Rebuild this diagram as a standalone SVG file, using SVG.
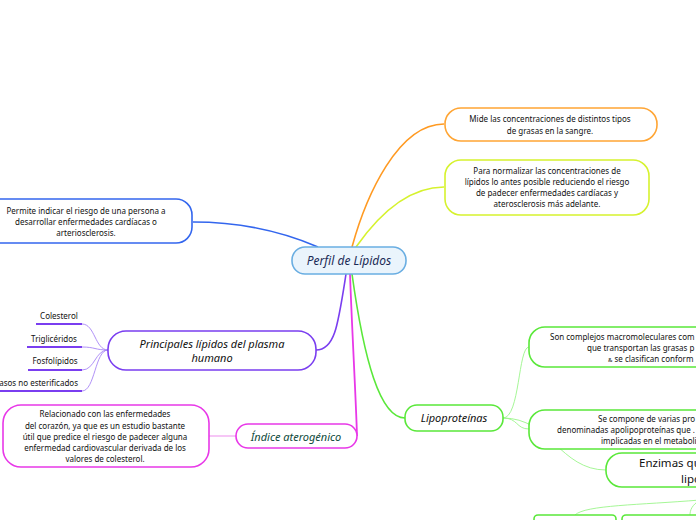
<svg xmlns="http://www.w3.org/2000/svg" width="696" height="520" viewBox="0 0 696 520">
<style>
  .t{font-family:"Noto Sans","Open Sans",sans-serif;font-size:8px;fill:#111;text-anchor:middle}
  .ts{font-family:"Noto Sans","Open Sans",sans-serif;font-size:8px;fill:#111;text-anchor:start}
  .ti{font-family:"Noto Sans","Open Sans",sans-serif;font-style:italic;font-size:11px;fill:#111;text-anchor:middle}
  .box{fill:#fff;stroke-width:1.6}
  .c{fill:none}
</style>
<rect width="696" height="520" fill="#fff"/>
<g id="connectors">
  <path class="c" d="M352,247 C366,196 398,124 444,124" stroke="#ff9a22" stroke-width="1.6"/>
  <path class="c" d="M356,247 C382,210 412,187 444,187" stroke="#d6f22e" stroke-width="1.6"/>
  <path class="c" d="M193,222 C250,222 290,235 318,247" stroke="#3366ee" stroke-width="1.6"/>
  <path class="c" d="M346,274 C338,325 335,350 316,350" stroke="#7a3ef0" stroke-width="1.6"/>
  <path class="c" d="M350,274 C352,330 356,400 357,436" stroke="#e838e8" stroke-width="1.8"/>
  <path class="c" d="M352,274 C364,360 380,418 405,418" stroke="#5ae83a" stroke-width="1.6"/>
  <path class="c" d="M108,350 C95,350 95,324 82,324" stroke="#a785f5" stroke-width="0.9"/>
  <path class="c" d="M108,350 C95,350 95,347 82,347" stroke="#a785f5" stroke-width="0.9"/>
  <path class="c" d="M108,350 C95,350 95,370 82,370" stroke="#a785f5" stroke-width="0.9"/>
  <path class="c" d="M108,350 C95,350 95,391 82,391" stroke="#a785f5" stroke-width="0.9"/>
  <path class="c" d="M209,436 L236,436" stroke="#f0a0f0" stroke-width="1.2"/>
  <path class="c" d="M503,418 C520,418 518,347 529,347" stroke="#9bf58a" stroke-width="0.9"/>
  <path class="c" d="M503,418 C518,418 516,429 529,429" stroke="#9bf58a" stroke-width="0.9"/>
  <path class="c" d="M503,418 C550,418 560,470 606,470" stroke="#9bf58a" stroke-width="0.9"/>
  <path class="c" d="M700,500 C640,505 585,505 575,515" stroke="#9bf58a" stroke-width="0.9"/>
  <path class="c" d="M700,500 C692,505 690,510 690,515" stroke="#9bf58a" stroke-width="0.9"/>
</g>
<g id="central">
  <rect x="292" y="247" width="114" height="27" rx="13" fill="#eaf4fc" stroke="#6aaee2" stroke-width="1.6"/>
  <text x="349" y="265" class="ti" style="font-size:12px;fill:#1a2a55">Perfil de Lípidos</text>
</g>
<g id="mide">
  <rect x="445" y="108" width="212" height="33" rx="16" class="box" stroke="#ffa534"/>
  <text class="t" x="550" y="122">Mide las concentraciones de distintos tipos</text>
  <text class="t" x="550" y="134">de grasas en la sangre.</text>
</g>
<g id="normalizar">
  <rect x="445" y="160" width="204" height="55" rx="16" class="box" stroke="#d6f22e"/>
  <text class="t" x="547" y="174">Para normalizar las concentraciones de</text>
  <text class="t" x="547" y="185">lípidos lo antes posible reduciendo el riesgo</text>
  <text class="t" x="547" y="196">de padecer enfermedades cardíacas y</text>
  <text class="t" x="547" y="207">aterosclerosis más adelante.</text>
</g>
<g id="permite">
  <rect x="-20" y="199" width="212" height="44" rx="16" class="box" stroke="#3366ee"/>
  <text class="t" x="86" y="214">Permite indicar el riesgo de una persona a</text>
  <text class="t" x="86" y="225">desarrollar enfermedades cardíacas o</text>
  <text class="t" x="86" y="236">arteriosclerosis.</text>
</g>
<g id="principales">
  <rect x="108" y="331" width="208" height="39" rx="18" class="box" stroke="#7a3ef0"/>
  <text class="ti" x="212" y="348">Principales lípidos del plasma</text>
  <text class="ti" x="212" y="362">humano</text>
</g>
<g id="colesterol">
  <text class="t" x="59" y="319">Colesterol</text>
  <line x1="36" y1="324" x2="82" y2="324" stroke="#7a3ef0" stroke-width="2"/>
</g>
<g id="trigliceridos">
  <text class="t" x="54" y="342">Triglicéridos</text>
  <line x1="27" y1="347" x2="82" y2="347" stroke="#7a3ef0" stroke-width="2"/>
</g>
<g id="fosfolipidos">
  <text class="t" x="55" y="364">Fosfolípidos</text>
  <line x1="28" y1="370" x2="82" y2="370" stroke="#7a3ef0" stroke-width="2"/>
</g>
<g id="acidos">
  <text class="t" x="78" y="386" style="text-anchor:end">Ácidos grasos no esterificados</text>
  <line x1="0" y1="391" x2="82" y2="391" stroke="#7a3ef0" stroke-width="2"/>
</g>
<g id="indice">
  <rect x="236" y="424" width="121" height="24" rx="12" class="box" stroke="#e838e8"/>
  <text class="ti" x="296" y="441" style="fill:#0d4a3a">Índice aterogénico</text>
</g>
<g id="relacionado">
  <rect x="3" y="405" width="206" height="62" rx="18" class="box" stroke="#e838e8"/>
  <text class="t" x="105" y="417">Relacionado con las enfermedades</text>
  <text class="t" x="105" y="429">del corazón, ya que es un estudio bastante</text>
  <text class="t" x="105" y="440">útil que predice el riesgo de padecer alguna</text>
  <text class="t" x="105" y="451">enfermedad cardiovascular derivada de los</text>
  <text class="t" x="105" y="462">valores de colesterol.</text>
</g>
<g id="lipoproteinas">
  <rect x="405" y="405" width="98" height="26" rx="12" class="box" stroke="#5ae83a"/>
  <text class="ti" x="454" y="422">Lipoproteínas</text>
</g>
<g id="complejos">
  <rect x="529" y="327" width="200" height="40" rx="16" class="box" stroke="#5ae83a"/>
  <text class="ts" x="550" y="340">Son complejos macromoleculares com</text>
  <text class="ts" x="587" y="351">que transportan las grasas p</text>
  <text class="ts" x="608" y="362"><tspan style="font-size:6px">&amp;</tspan> se clasifican conform</text>
</g>
<g id="compone">
  <rect x="529" y="410" width="200" height="39" rx="16" class="box" stroke="#5ae83a"/>
  <text class="ts" x="598" y="422">Se compone de varias pro</text>
  <text class="ts" x="557" y="433">denominadas apolipoproteínas que .</text>
  <text class="ts" x="601" y="444">implicadas en el metaboli</text>
</g>
<g id="enzimas">
  <rect x="606" y="453" width="120" height="34" rx="16" class="box" stroke="#5ae83a" stroke-width="2"/>
  <text class="ts" x="639" y="467" style="font-size:11.5px">Enzimas qu</text>
  <text class="ts" x="681" y="483" style="font-size:11.5px">lipo</text>
</g>
<g id="sub1">
  <rect x="534" y="515" width="82" height="20" rx="4" class="box" stroke="#5ae83a" stroke-width="2"/>
</g>
<g id="sub2">
  <rect x="622" y="515" width="100" height="20" rx="4" class="box" stroke="#5ae83a" stroke-width="2"/>
</g>
</svg>
